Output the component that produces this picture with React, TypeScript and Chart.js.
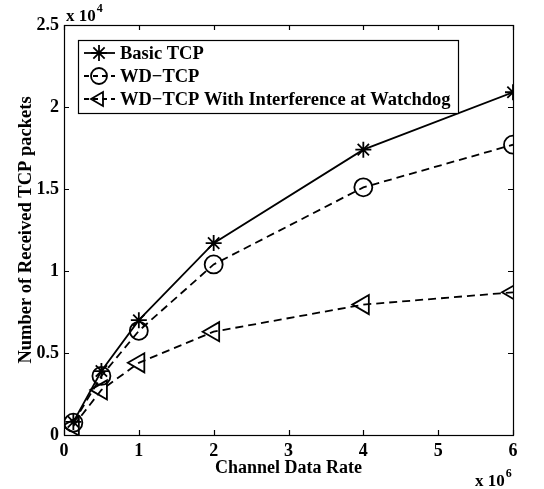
import React, { useEffect, useRef } from "react";
import { Chart, registerables } from "chart.js";
import { drawPoint } from "chart.js/helpers";

Chart.register(...registerables);

const channelRates = [125000, 500000, 1000000, 2000000, 4000000, 6000000];
const basicTcp = [800, 3900, 7000, 11700, 17400, 20900];
const wdTcp = [750, 3600, 6350, 10400, 15100, 17700];
const wdTcpInterference = [550, 2750, 4400, 6300, 7950, 8700];
const seriesLabels = ["Basic TCP", "WD\u2212TCP", "WD\u2212TCP With Interference at Watchdog"];
const xTicks = [0, 1000000, 2000000, 3000000, 4000000, 5000000, 6000000];
const yTicks = [0, 5000, 10000, 15000, 20000, 25000];
const xTitle = "Channel Data Rate";
const yTitle = "Number of Received TCP packets";

const FONT = "'Liberation Serif', 'Times New Roman', serif";

const styles = [
  { pointStyle: "star", rotation: 0, radius: 8, dash: [] as number[] },
  { pointStyle: "circle", rotation: 0, radius: 9, dash: [8, 5] },
  { pointStyle: "triangle", rotation: -90, radius: 11, dash: [8, 5] },
];

const matlabPlugin = {
  id: "matlabDecor",
  afterDraw(chart: any) {
    const { ctx, chartArea } = chart;
    const { left, right, top, bottom } = chartArea;
    const xs = chart.scales.x;
    const ys = chart.scales.y;
    ctx.save();
    ctx.strokeStyle = "#000";
    ctx.lineWidth = 1.2;
    ctx.setLineDash([]);
    ctx.strokeRect(left + 0.5, top + 0.5, right - left, bottom - top);
    const tl = 5;
    ctx.beginPath();
    for (const v of xTicks) {
      const px = Math.round(xs.getPixelForValue(v)) + 0.5;
      ctx.moveTo(px, bottom);
      ctx.lineTo(px, bottom - tl);
      ctx.moveTo(px, top);
      ctx.lineTo(px, top + tl);
    }
    for (const v of yTicks) {
      const py = Math.round(ys.getPixelForValue(v)) + 0.5;
      ctx.moveTo(left, py);
      ctx.lineTo(left + tl, py);
      ctx.moveTo(right, py);
      ctx.lineTo(right - tl, py);
    }
    ctx.stroke();

    // exponent labels
    ctx.fillStyle = "#000";
    ctx.textBaseline = "alphabetic";
    ctx.textAlign = "left";
    ctx.font = `bold 17px ${FONT}`;
    ctx.fillText("x 10", left + 2, top - 4);
    let w = ctx.measureText("x 10").width;
    ctx.font = `bold 12px ${FONT}`;
    ctx.fillText("4", left + 2 + w + 1, top - 13);
    ctx.font = `bold 17px ${FONT}`;
    ctx.fillText("x 10", right - 38, bottom + 51);
    w = ctx.measureText("x 10").width;
    ctx.font = `bold 12px ${FONT}`;
    ctx.fillText("6", right - 38 + w + 1, bottom + 42);

    // legend
    const bx = left + 14;
    const by = top + 15;
    const bw = 380;
    const bh = 73;
    ctx.fillStyle = "#fff";
    ctx.fillRect(bx, by, bw, bh);
    ctx.strokeStyle = "#000";
    ctx.lineWidth = 1.2;
    ctx.strokeRect(bx + 0.5, by + 0.5, bw, bh);
    ctx.font = `bold 18.5px ${FONT}`;
    ctx.textBaseline = "middle";
    seriesLabels.forEach((label, i) => {
      const cy = by + 13 + i * 23;
      const st = styles[i];
      ctx.lineWidth = 1.8;
      ctx.setLineDash(i === 0 ? [] : [5, 4]);
      ctx.beginPath();
      ctx.moveTo(bx + 6, cy);
      ctx.lineTo(bx + 37, cy);
      ctx.stroke();
      ctx.setLineDash([]);
      ctx.fillStyle = "rgba(0,0,0,0)";
      drawPoint(
        ctx,
        { pointStyle: st.pointStyle, rotation: st.rotation, radius: 8, borderWidth: 1.8 } as any,
        bx + 21,
        cy
      );
      ctx.fillStyle = "#000";
      ctx.fillText(label, bx + 42, cy + 1);
    });
    ctx.restore();
  },
};

export default function App() {
  const ref = useRef<HTMLCanvasElement>(null);
  useEffect(() => {
    if (!ref.current) return;
    const mk = (data: number[], i: number, label: string) => ({
      label,
      data: channelRates.map((x, k) => ({ x, y: data[k] })),
      borderColor: "#000",
      backgroundColor: "rgba(0,0,0,0)",
      borderWidth: 1.8,
      borderDash: styles[i].dash,
      pointStyle: styles[i].pointStyle,
      rotation: styles[i].rotation,
      pointRadius: styles[i].radius,
      pointBorderWidth: 1.8,
      pointBorderColor: "#000",
      pointBackgroundColor: "rgba(0,0,0,0)",
      tension: 0,
      fill: false,
    });
    const chart = new Chart(ref.current, {
      type: "line",
      data: {
        datasets: [
          mk(basicTcp, 0, seriesLabels[0]),
          mk(wdTcp, 1, seriesLabels[1]),
          mk(wdTcpInterference, 2, seriesLabels[2]),
        ],
      },
      options: {
        animation: false,
        responsive: false,
        layout: { padding: { top: 25, right: 31, left: 0, bottom: 0 } },
        plugins: { legend: { display: false }, tooltip: { enabled: false } },
        scales: {
          x: {
            type: "linear",
            min: 0,
            max: 6000000,
            grid: { display: false, drawTicks: false },
            border: { display: false },
            afterBuildTicks: (s: any) => {
              s.ticks = xTicks.map((v) => ({ value: v }));
            },
            afterFit: (s: any) => {
              s.height = 54;
            },
            ticks: {
              color: "#000",
              padding: 6,
              maxRotation: 0,
              font: { family: FONT, size: 18, weight: "bold" },
              callback: (v: any) => String(Number(v) / 1e6),
            },
            title: {
              display: true,
              text: xTitle,
              color: "#000",
              padding: { top: 0, bottom: 10 },
              font: { family: FONT, size: 18, weight: "bold" },
            },
          },
          y: {
            type: "linear",
            min: 0,
            max: 25000,
            grid: { display: false, drawTicks: false },
            border: { display: false },
            afterBuildTicks: (s: any) => {
              s.ticks = yTicks.map((v) => ({ value: v }));
            },
            afterFit: (s: any) => {
              s.width = 64;
            },
            ticks: {
              color: "#000",
              padding: 5,
              font: { family: FONT, size: 18, weight: "bold" },
              callback: (v: any) => String(Number(v) / 1e4),
            },
            title: {
              display: true,
              text: yTitle,
              color: "#000",
              padding: { top: 15, bottom: 0 },
              font: { family: FONT, size: 18.5, weight: "bold" },
            },
          },
        },
      } as any,
      plugins: [matlabPlugin],
    });
    return () => chart.destroy();
  }, []);
  return (
    <div style={{ position: "fixed", left: 0, top: 0, width: 544, height: 489, background: "#fff" }}>
      <canvas ref={ref} width={544} height={489} style={{ display: "block" }} />
    </div>
  );
}
